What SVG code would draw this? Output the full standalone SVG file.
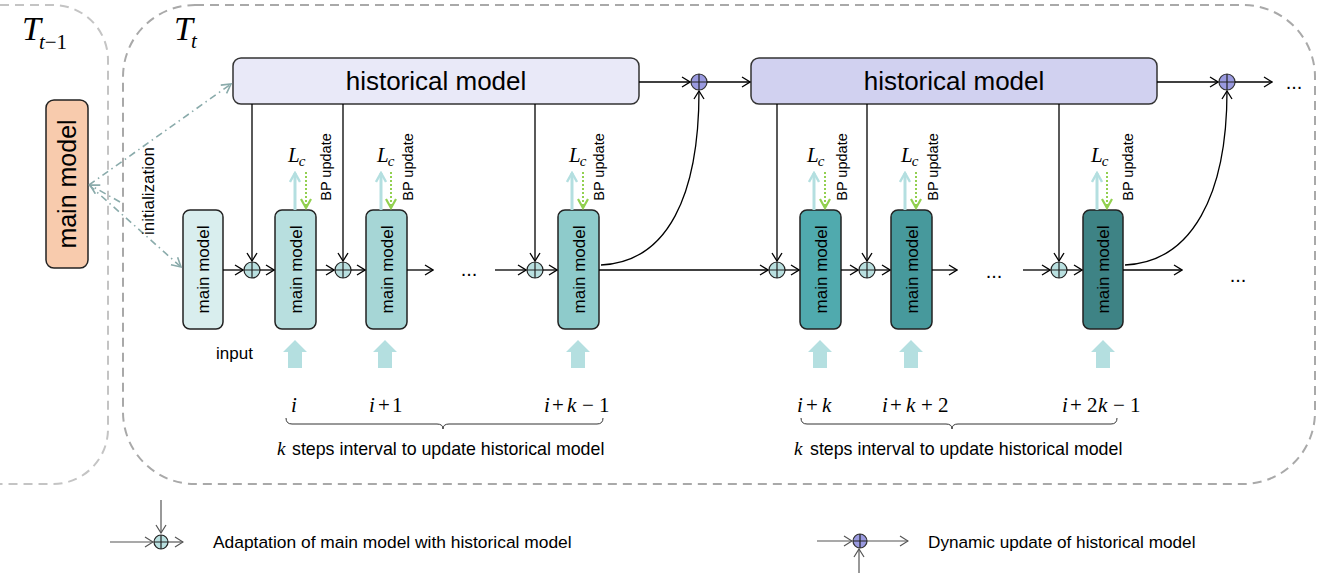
<svg xmlns="http://www.w3.org/2000/svg" width="1323" height="577" viewBox="0 0 1323 577">
  <defs>
    <style>
      .frame { fill: none; stroke-width: 2; stroke-dasharray: 9 6; }
      .box { stroke: #222; stroke-width: 1.5; }
      .hist { stroke: #333; stroke-width: 1.5; }
      .lbl { font-family: "Liberation Sans", Arial, sans-serif; fill: #000; }
      .math { font-family: "Liberation Serif", "Times New Roman", serif; fill: #000; }
      .it { font-style: italic; }
      .wire { fill: none; stroke: #000; stroke-width: 1.3; }
      .adapt { fill: #b9e0e0; stroke: #222; stroke-width: 1.2; }
      .upd { fill: #9a9ae0; stroke: #333; stroke-width: 1.2; }
      .cross { stroke: #222; stroke-width: 1.2; }
      .loss { stroke: #b4dfe0; stroke-width: 3; fill: none; }
      .bp { stroke: #92d050; stroke-width: 2; stroke-dasharray: 2 2; fill: none; }
      .init { stroke: #8aabab; stroke-width: 1.6; fill: none; stroke-dasharray: 7 4 1.5 4; }
      .inarrow { fill: #b4dfe0; }
      .brace { fill: none; stroke: #333; stroke-width: 1; }
      .leg { fill: none; stroke: #555; stroke-width: 1.2; }
    </style>
    <marker id="ah" viewBox="0 0 10 12" refX="9" refY="6" markerWidth="10" markerHeight="12" markerUnits="userSpaceOnUse" orient="auto">
      <path d="M1,1 L9,6 L1,11" fill="none" stroke="#000" stroke-width="1.3"/>
    </marker>
    <marker id="ahLoss" viewBox="0 0 12 12" refX="10" refY="6" markerWidth="12" markerHeight="12" markerUnits="userSpaceOnUse" orient="auto">
      <path d="M1,1 L10,6 L1,11" fill="none" stroke="#b4dfe0" stroke-width="2.4"/>
    </marker>
    <marker id="ahBp" viewBox="0 0 12 12" refX="10" refY="6" markerWidth="12" markerHeight="12" markerUnits="userSpaceOnUse" orient="auto">
      <path d="M1,1 L10,6 L1,11" fill="none" stroke="#92d050" stroke-width="2.2"/>
    </marker>
    <marker id="ahInit" viewBox="0 0 12 12" refX="10" refY="6" markerWidth="12" markerHeight="12" markerUnits="userSpaceOnUse" orient="auto">
      <path d="M1,1 L10,6 L1,11" fill="none" stroke="#8aabab" stroke-width="1.6"/>
    </marker>
    <marker id="ahLeg" viewBox="0 0 10 12" refX="9" refY="6" markerWidth="10" markerHeight="12" markerUnits="userSpaceOnUse" orient="auto">
      <path d="M1,1 L9,6 L1,11" fill="none" stroke="#555" stroke-width="1.2"/>
    </marker>
  </defs>

  <!-- time-step frames -->
  <g id="frame-prev">
    <rect class="frame" x="-70" y="5" width="178" height="479" rx="55" stroke="#c4c4c4"/>
    <text class="math it" x="22" y="40" font-size="34">T<tspan font-size="21" dx="-2" dy="9">t</tspan><tspan font-size="21" font-style="normal">−1</tspan></text>
  </g>
  <g id="frame-cur">
    <rect class="frame" x="123" y="5" width="1192" height="479" rx="72" stroke="#a9a9a9"/>
    <text class="math it" x="174" y="40" font-size="34">T<tspan font-size="21" dx="-2" dy="8">t</tspan></text>
  </g>

  <!-- main model from previous step -->
  <g id="prev-main-model">
    <rect class="box" x="46" y="100" width="42" height="168" rx="8" fill="#f8cbad"/>
    <text class="lbl" transform="translate(67,184) rotate(-90)" font-size="25" text-anchor="middle" dominant-baseline="central">main model</text>
  </g>

  <!-- historical models -->
  <g id="hist-1">
    <rect class="hist" x="233" y="58" width="406" height="46" rx="8" fill="#e9e9f8"/>
    <text class="lbl" x="436" y="90" font-size="26" text-anchor="middle">historical model</text>
  </g>
  <g id="hist-2">
    <rect class="hist" x="751" y="58" width="406" height="46" rx="8" fill="#d1d1f0"/>
    <text class="lbl" x="954" y="90" font-size="26" text-anchor="middle">historical model</text>
  </g>

  <!-- main model chain -->
  <g id="mm-0">
    <rect class="box" x="183" y="210" width="40" height="119" rx="7" fill="#d9eeee"/>
    <text class="lbl" transform="translate(203,269.5) rotate(-90)" font-size="17" text-anchor="middle" dominant-baseline="central">main model</text>
  </g>
  <g id="mm-i">
    <rect class="box" x="275" y="210" width="41" height="119" rx="7" fill="#b8dfdf"/>
    <text class="lbl" transform="translate(296,269.5) rotate(-90)" font-size="17" text-anchor="middle" dominant-baseline="central">main model</text>
  </g>
  <g id="mm-i1">
    <rect class="box" x="366" y="210" width="41" height="119" rx="7" fill="#a6d6d6"/>
    <text class="lbl" transform="translate(387,269.5) rotate(-90)" font-size="17" text-anchor="middle" dominant-baseline="central">main model</text>
  </g>
  <g id="mm-ik1">
    <rect class="box" x="558" y="210" width="41" height="119" rx="7" fill="#8ecbcb"/>
    <text class="lbl" transform="translate(579,269.5) rotate(-90)" font-size="17" text-anchor="middle" dominant-baseline="central">main model</text>
  </g>
  <g id="mm-ik">
    <rect class="box" x="800" y="210" width="41" height="119" rx="7" fill="#50aaae"/>
    <text class="lbl" transform="translate(821,269.5) rotate(-90)" font-size="17" text-anchor="middle" dominant-baseline="central">main model</text>
  </g>
  <g id="mm-ik2">
    <rect class="box" x="891" y="210" width="41" height="119" rx="7" fill="#47999c"/>
    <text class="lbl" transform="translate(912,269.5) rotate(-90)" font-size="17" text-anchor="middle" dominant-baseline="central">main model</text>
  </g>
  <g id="mm-i2k1">
    <rect class="box" x="1083" y="210" width="40" height="119" rx="7" fill="#3e8385"/>
    <text class="lbl" transform="translate(1103,269.5) rotate(-90)" font-size="17" text-anchor="middle" dominant-baseline="central">main model</text>
  </g>

  <!-- adaptation junctions -->
  <g id="adapt-junctions">
    <g id="ad-1"><circle class="adapt" cx="252" cy="270" r="8"/><path class="cross" d="M244,270 H260 M252,262 V278"/></g>
    <g id="ad-2"><circle class="adapt" cx="343" cy="270" r="8"/><path class="cross" d="M335,270 H351 M343,262 V278"/></g>
    <g id="ad-3"><circle class="adapt" cx="535" cy="270" r="8"/><path class="cross" d="M527,270 H543 M535,262 V278"/></g>
    <g id="ad-4"><circle class="adapt" cx="777" cy="270" r="8"/><path class="cross" d="M769,270 H785 M777,262 V278"/></g>
    <g id="ad-5"><circle class="adapt" cx="867" cy="270" r="8"/><path class="cross" d="M859,270 H875 M867,262 V278"/></g>
    <g id="ad-6"><circle class="adapt" cx="1059" cy="270" r="8"/><path class="cross" d="M1051,270 H1067 M1059,262 V278"/></g>
  </g>

  <!-- historical update junctions -->
  <g id="update-junctions">
    <g id="up-1"><circle class="upd" cx="699" cy="82" r="8"/><path class="cross" d="M691,82 H707 M699,74 V90"/></g>
    <g id="up-2"><circle class="upd" cx="1227" cy="82" r="8"/><path class="cross" d="M1219,82 H1235 M1227,74 V90"/></g>
  </g>

  <!-- connectors -->
  <g id="connectors">
    <!-- initialization -->
    <path class="init" d="M89,185 L231,84" marker-end="url(#ahInit)"/>
    <path class="init" d="M89,185 L181,267" marker-end="url(#ahInit)"/>
    <path class="init" d="M120,202 L90,185" marker-end="url(#ahInit)"/>

    <!-- forward chain -->
    <path class="wire" d="M223,270 H243" marker-end="url(#ah)"/>
    <path class="wire" d="M260,270 H274" marker-end="url(#ah)"/>
    <path class="wire" d="M316,270 H334" marker-end="url(#ah)"/>
    <path class="wire" d="M351,270 H365" marker-end="url(#ah)"/>
    <path class="wire" d="M407,270 H433" marker-end="url(#ah)"/>
    <path class="wire" d="M495,270 H526" marker-end="url(#ah)"/>
    <path class="wire" d="M543,270 H557" marker-end="url(#ah)"/>
    <path class="wire" d="M599,270 H768" marker-end="url(#ah)"/>
    <path class="wire" d="M785,270 H799" marker-end="url(#ah)"/>
    <path class="wire" d="M841,270 H858" marker-end="url(#ah)"/>
    <path class="wire" d="M875,270 H890" marker-end="url(#ah)"/>
    <path class="wire" d="M932,270 H957" marker-end="url(#ah)"/>
    <path class="wire" d="M1023,270 H1050" marker-end="url(#ah)"/>
    <path class="wire" d="M1067,270 H1082" marker-end="url(#ah)"/>
    <path class="wire" d="M1123,270 H1182" marker-end="url(#ah)"/>

    <!-- historical model feeds -->
    <path class="wire" d="M252,104 V261" marker-end="url(#ah)"/>
    <path class="wire" d="M343,104 V261" marker-end="url(#ah)"/>
    <path class="wire" d="M535,104 V261" marker-end="url(#ah)"/>
    <path class="wire" d="M777,104 V261" marker-end="url(#ah)"/>
    <path class="wire" d="M867,104 V261" marker-end="url(#ah)"/>
    <path class="wire" d="M1059,104 V261" marker-end="url(#ah)"/>

    <!-- historical model updates -->
    <path class="wire" d="M639,82 H690" marker-end="url(#ah)"/>
    <path class="wire" d="M707,82 H750" marker-end="url(#ah)"/>
    <path class="wire" d="M1157,82 H1218" marker-end="url(#ah)"/>
    <path class="wire" d="M1235,82 H1272" marker-end="url(#ah)"/>
    <path class="wire" d="M601,265 C668,262 699,195 699,91" marker-end="url(#ah)"/>
    <path class="wire" d="M1125,265 C1192,262 1227,195 1227,91" marker-end="url(#ah)"/>

    <!-- loss and back-propagation -->
    <path class="loss" d="M295,210 V173" marker-end="url(#ahLoss)"/>
    <path class="bp" d="M306,172 V208" marker-end="url(#ahBp)"/>
    <path class="loss" d="M381,210 V173" marker-end="url(#ahLoss)"/>
    <path class="bp" d="M391,172 V208" marker-end="url(#ahBp)"/>
    <path class="loss" d="M572,210 V173" marker-end="url(#ahLoss)"/>
    <path class="bp" d="M583,172 V208" marker-end="url(#ahBp)"/>
    <path class="loss" d="M814,210 V173" marker-end="url(#ahLoss)"/>
    <path class="bp" d="M825,172 V208" marker-end="url(#ahBp)"/>
    <path class="loss" d="M905,210 V173" marker-end="url(#ahLoss)"/>
    <path class="bp" d="M916,172 V208" marker-end="url(#ahBp)"/>
    <path class="loss" d="M1097,210 V173" marker-end="url(#ahLoss)"/>
    <path class="bp" d="M1107,172 V208" marker-end="url(#ahBp)"/>

    <!-- inputs -->
    <polygon class="inarrow" points="295,340 307,352 302,352 302,368 288,368 288,352 283,352"/>
    <polygon class="inarrow" points="385,340 397,352 392,352 392,368 378,368 378,352 373,352"/>
    <polygon class="inarrow" points="578,340 590,352 585,352 585,368 571,368 571,352 566,352"/>
    <polygon class="inarrow" points="820,340 832,352 827,352 827,368 813,368 813,352 808,352"/>
    <polygon class="inarrow" points="911,340 923,352 918,352 918,368 904,368 904,352 899,352"/>
    <polygon class="inarrow" points="1103,340 1115,352 1110,352 1110,368 1096,368 1096,352 1091,352"/>
  </g>

  <!-- labels -->
  <g id="labels">
    <text class="lbl" transform="translate(154,191) rotate(-90)" font-size="17" text-anchor="middle">initialization</text>
    <text class="lbl" x="216" y="359" font-size="17">input</text>

    <text class="lbl" x="469" y="276" font-size="20" text-anchor="middle">...</text>
    <text class="lbl" x="994" y="278" font-size="20" text-anchor="middle">...</text>
    <text class="lbl" x="1238" y="282" font-size="20" text-anchor="middle">...</text>
    <text class="lbl" x="1294" y="89" font-size="20" text-anchor="middle">...</text>

    <g id="loss-labels" class="math">
      <text x="288" y="162" font-size="21"><tspan class="it">L</tspan><tspan class="it" font-size="15" dx="-1" dy="4">c</tspan></text>
      <text x="377" y="162" font-size="21"><tspan class="it">L</tspan><tspan class="it" font-size="15" dx="-1" dy="4">c</tspan></text>
      <text x="569" y="162" font-size="21"><tspan class="it">L</tspan><tspan class="it" font-size="15" dx="-1" dy="4">c</tspan></text>
      <text x="807" y="162" font-size="21"><tspan class="it">L</tspan><tspan class="it" font-size="15" dx="-1" dy="4">c</tspan></text>
      <text x="901" y="162" font-size="21"><tspan class="it">L</tspan><tspan class="it" font-size="15" dx="-1" dy="4">c</tspan></text>
      <text x="1091" y="162" font-size="21"><tspan class="it">L</tspan><tspan class="it" font-size="15" dx="-1" dy="4">c</tspan></text>
    </g>
    <g id="bp-labels" class="lbl" font-size="14.5" text-anchor="middle">
      <text transform="translate(331,167) rotate(-90)">BP update</text>
      <text transform="translate(413,167) rotate(-90)">BP update</text>
      <text transform="translate(604,167) rotate(-90)">BP update</text>
      <text transform="translate(847,167) rotate(-90)">BP update</text>
      <text transform="translate(938,167) rotate(-90)">BP update</text>
      <text transform="translate(1133,167) rotate(-90)">BP update</text>
    </g>

    <!-- step indices -->
    <g id="steps-1" class="math" font-size="21">
      <text x="291" y="412" class="it">i</text>
      <text x="369" y="412"><tspan class="it">i</tspan><tspan x="378">+</tspan><tspan x="392">1</tspan></text>
      <text x="544" y="412"><tspan class="it">i</tspan><tspan x="552">+</tspan><tspan x="567" class="it">k</tspan><tspan x="582">−</tspan><tspan x="599">1</tspan></text>
      <path class="brace" d="M286,418 Q286,424 292,424 L437,424 Q443,424 443,429 Q443,424 449,424 L597,424 Q603,424 603,418"/>
      <text x="277" y="455" class="it" font-size="19">k</text>
      <text class="lbl" x="292" y="455" font-size="17.8">steps interval to update historical model</text>
    </g>
    <g id="steps-2" class="math" font-size="21">
      <text x="797" y="412"><tspan class="it">i</tspan><tspan x="806">+</tspan><tspan x="822" class="it">k</tspan></text>
      <text x="882" y="412"><tspan class="it">i</tspan><tspan x="890">+</tspan><tspan x="906" class="it">k</tspan><tspan x="921">+</tspan><tspan x="938">2</tspan></text>
      <text x="1062" y="412"><tspan class="it">i</tspan><tspan x="1070">+</tspan><tspan x="1087">2</tspan><tspan x="1098" class="it">k</tspan><tspan x="1113">−</tspan><tspan x="1130">1</tspan></text>
      <path class="brace" d="M801,418 Q801,424 807,424 L946,424 Q952,424 952,429 Q952,424 958,424 L1111,424 Q1117,424 1117,418"/>
      <text x="794" y="455" class="it" font-size="19">k</text>
      <text class="lbl" x="810" y="455" font-size="17.8">steps interval to update historical model</text>
    </g>
  </g>

  <!-- legend -->
  <g id="legend-adapt">
    <path class="leg" d="M161,500 V533" marker-end="url(#ahLeg)"/>
    <path class="leg" d="M110,542 H153" marker-end="url(#ahLeg)"/>
    <path class="leg" d="M168,542 H183" marker-end="url(#ahLeg)"/>
    <circle class="adapt" cx="161" cy="542" r="7"/>
    <path class="cross" d="M154,542 H168 M161,535 V549"/>
    <text class="lbl" x="213" y="548" font-size="17.4">Adaptation of main model with historical model</text>
  </g>
  <g id="legend-update">
    <path class="leg" d="M817,541 H852" marker-end="url(#ahLeg)"/>
    <path class="leg" d="M867,541 H908" marker-end="url(#ahLeg)"/>
    <path class="leg" d="M859,573 V549" marker-end="url(#ahLeg)"/>
    <circle class="upd" cx="860" cy="541" r="7"/>
    <path class="cross" d="M853,541 H867 M860,534 V548"/>
    <text class="lbl" x="928" y="548" font-size="17.2">Dynamic update of historical model</text>
  </g>
</svg>
